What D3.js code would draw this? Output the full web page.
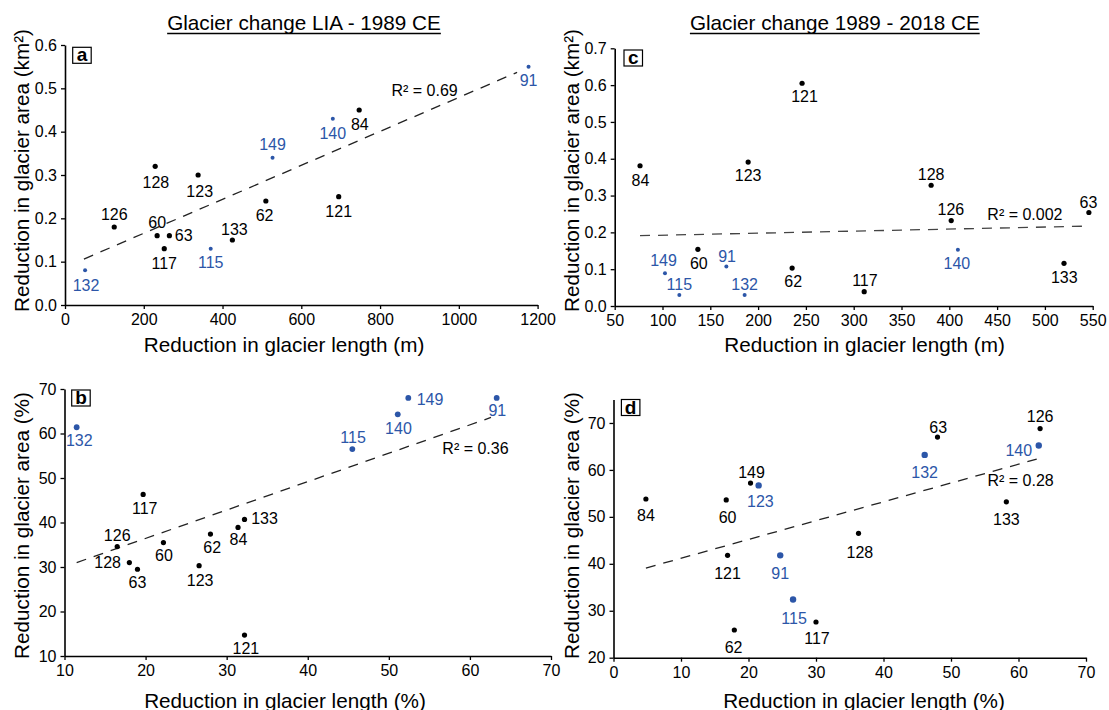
<!DOCTYPE html>
<html>
<head>
<meta charset="utf-8">
<script src="https://cdn.jsdelivr.net/npm/d3@7"></script>
<style>
  html, body { margin: 0; padding: 0; background: #fff; }
  svg { display: block; font-family: "Liberation Sans", Arial, sans-serif; }
</style>
</head>
<body>
<svg id="chart" width="1109" height="710"></svg>
<script>
// ---- Glacier data -------------------------------------------------------
// (a) LIA - 1989 CE, absolute change
const idsA  = [132, 126, 128, 60, 63, 117, 123, 115, 133, 62, 149, 140, 84, 121, 91];
const lenA  = [51, 125, 229, 234, 265, 252, 338, 370, 425, 510, 527, 680, 747, 695, 1177];
const areaA = [0.08, 0.18, 0.32, 0.16, 0.16, 0.13, 0.30, 0.13, 0.15, 0.24, 0.34, 0.43, 0.45, 0.25, 0.55];
const blueA = [132, 115, 149, 140, 91];
const trendA = [[48, 0.106], [1148, 0.537]];

// (b) LIA - 1989 CE, relative change
const idsB  = [132, 117, 126, 128, 63, 60, 123, 62, 84, 133, 121, 115, 140, 149, 91];
const lenB  = [11.5, 19.7, 16.5, 18.0, 19.0, 22.2, 26.6, 28.0, 31.4, 32.2, 32.2, 45.5, 51.1, 52.4, 63.3];
const areaB = [61.4, 46.3, 34.6, 31.0, 29.5, 35.5, 30.3, 37.4, 38.9, 40.7, 14.7, 56.5, 64.3, 68.0, 68.0];
const blueB = [132, 115, 140, 149, 91];
const trendB = [[11.5, 31.0], [62.6, 63.6]];

// (c) 1989 - 2018 CE, absolute change
const idsC  = [84, 149, 115, 60, 91, 132, 123, 62, 121, 117, 128, 126, 140, 133, 63];
const lenC  = [76.5, 102.6, 117.6, 137, 166.8, 185.9, 189.6, 235.6, 246, 311, 381, 402, 409, 520, 546];
const areaC = [0.381, 0.089, 0.030, 0.154, 0.107, 0.030, 0.391, 0.103, 0.605, 0.039, 0.328, 0.232, 0.153, 0.116, 0.254];
const blueC = [149, 115, 91, 132, 140];
const trendC = [[76.5, 0.191], [545.6, 0.217]];

// (d) 1989 - 2018 CE, relative change
const idsD  = [84, 60, 121, 149, 62, 123, 91, 115, 117, 128, 132, 63, 133, 140, 126];
const lenD  = [4.8, 16.7, 16.9, 20.3, 17.9, 21.5, 24.7, 26.6, 30.0, 36.3, 46.1, 48.0, 58.2, 63.0, 63.2];
const areaD = [53.8, 53.6, 41.8, 57.2, 25.9, 56.7, 41.8, 32.4, 27.6, 46.5, 63.2, 67.0, 53.2, 65.2, 68.8];
const blueD = [123, 91, 115, 132, 140];
const trendD = [[4.8, 39.1], [62.7, 62.3]];

// Coefficients of determination shown beside the trend lines
const r2Labels = ["R² = 0.69", "R² = 0.36", "R² = 0.002", "R² = 0.28"];

// ---- Axis ticks and labels ----------------------------------------------
const xTicksA = [0, 200, 400, 600, 800, 1000, 1200];
const yTicksA = [0.0, 0.1, 0.2, 0.3, 0.4, 0.5, 0.6];
const xTicksB = [10, 20, 30, 40, 50, 60, 70];
const yTicksB = [10, 20, 30, 40, 50, 60, 70];
const xTicksC = [50, 100, 150, 200, 250, 300, 350, 400, 450, 500, 550];
const yTicksC = [0.0, 0.1, 0.2, 0.3, 0.4, 0.5, 0.6, 0.7];
const xTicksD = [0, 10, 20, 30, 40, 50, 60, 70];
const yTicksD = [20, 30, 40, 50, 60, 70];

const titles = ["Glacier change LIA - 1989 CE", "Glacier change 1989 - 2018 CE"];
const xTitles = ["Reduction in glacier length (m)", "Reduction in glacier length (%)"];
const yTitles = ["Reduction in glacier area (km²)", "Reduction in glacier area (%)"];

// ---- Layout --------------------------------------------------------------
const BLUE = "#2c56a8";
const BLACK = "#000";

// label offsets (px) of each glacier number relative to its dot
const offA = {132:[1,15.4],126:[0,-12.7],128:[0.7,16],60:[0,-13.5],63:[14.3,0],117:[0,15],123:[1.6,16],
  115:[0,13.3],133:[2,-11],62:[-1.3,14.3],149:[0,-13.4],140:[0,14.7],84:[0.6,14.3],121:[0,14.7],91:[0,13.6]};
const offB = {132:[2.6,12.7],117:[1.6,14],126:[0,-11],128:[-21.7,0],63:[0,12.7],60:[0.6,12.3],123:[1,14.3],
  62:[1.7,12.7],84:[0.4,12.3],133:[20,-1],121:[1.4,13.3],115:[0.7,-11.6],140:[0.7,14],149:[21.7,1],91:[0.6,12]};
const offC = {84:[0.4,14.3],123:[0,13],121:[2.5,13.4],128:[0,-11.3],126:[-0.3,-11.4],63:[-0.4,-10.7],60:[1,14],
  149:[-1.4,-12.6],91:[0.7,-10.5],115:[0,-10.7],132:[0,-10.7],62:[1,13.4],117:[0.7,-11.7],140:[-1,13.6],133:[0.3,14.4]};
const offD = {84:[0,16],60:[1.4,17.4],149:[1,-11.3],123:[1.8,16],121:[0,17.4],91:[0,17.4],115:[1,18.4],
  62:[-0.7,17.3],117:[1,16.7],128:[1.4,19.4],132:[0,17],63:[0.7,-10],126:[0,-12.3],140:[-20,5],133:[0,17.3]};

const panels = [
  { tag: "a", ids: idsA, xs: lenA, ys: areaA, blue: blueA, trend: trendA, r2: r2Labels[0], r2At: [829, 0.496],
    xDom: [0, 1200], xRng: [65, 537.6], yDom: [0, 0.6], yRng: [305, 45], xTicks: xTicksA, yTicks: yTicksA,
    fmtY: d3.format(".1f"), fmtX: d3.format("d"), off: offA, rBlack: 2.6, rBlue: 2.0,
    title: titles[0], titleX: 304, xTitle: xTitles[0], xTitleX: 284, xTitleY: 352,
    yTitle: yTitles[0], yTitleX: 28.5, yTitleY: 170.5, box: [72.7, 47.3], dash: "#222" },
  { tag: "b", ids: idsB, xs: lenB, ys: areaB, blue: blueB, trend: trendB, r2: r2Labels[1], r2At: [56.6, 56.7],
    xDom: [10, 70], xRng: [64.5, 551], yDom: [10, 70], yRng: [656, 389], xTicks: xTicksB, yTicks: yTicksB,
    fmtY: d3.format("d"), fmtX: d3.format("d"), off: offB, rBlack: 2.6, rBlue: 2.9,
    xTitle: xTitles[1], xTitleX: 285, xTitleY: 707.5,
    yTitle: yTitles[1], yTitleX: 28.5, yTitleY: 525.5, box: [71.7, 390], dash: "#222" },
  { tag: "c", ids: idsC, xs: lenC, ys: areaC, blue: blueC, trend: trendC, r2: r2Labels[2], r2At: [439.8, 0.249],
    xDom: [50, 550], xRng: [614.7, 1092.7], yDom: [0, 0.7], yRng: [306, 48.3], xTicks: xTicksC, yTicks: yTicksC,
    fmtY: d3.format(".1f"), fmtX: d3.format("d"), off: offC, rBlack: 2.6, rBlue: 2.0,
    title: titles[1], titleX: 834.8, xTitle: xTitles[0], xTitleX: 864.6, xTitleY: 352,
    yTitle: yTitles[0], yTitleX: 578.5, yTitleY: 170.5, box: [624, 50], dash: "#444" },
  { tag: "d", ids: idsD, xs: lenD, ys: areaD, blue: blueD, trend: trendD, r2: r2Labels[3], r2At: [55.4, 57.7],
    xDom: [0, 70], xRng: [613.5, 1086], yDom: [20, 75], yRng: [657.7, 399.5], xTicks: xTicksD, yTicks: yTicksD,
    fmtY: d3.format("d"), fmtX: d3.format("d"), off: offD, rBlack: 2.6, rBlue: 3.2,
    xTitle: xTitles[1], xTitleX: 864, xTitleY: 708,
    yTitle: yTitles[1], yTitleX: 578.5, yTitleY: 525.5, box: [621.4, 399.5], dash: "#222" }
];

const svg = d3.select("#chart");
const TICK_FONT = "16px";
const LABEL_FONT = "16px";
const TITLE_FONT = "20.7px";

panels.forEach(p => {
  const g = svg.append("g").attr("class", "panel-" + p.tag);
  const x = d3.scaleLinear().domain(p.xDom).range(p.xRng);
  const y = d3.scaleLinear().domain(p.yDom).range(p.yRng);

  // axes
  const xAxis = g.append("g")
    .attr("transform", `translate(0,${p.yRng[0]})`)
    .call(d3.axisBottom(x).tickValues(p.xTicks).tickFormat(p.fmtX).tickSize(4).tickSizeOuter(0).tickPadding(5));
  const yAxis = g.append("g")
    .attr("transform", `translate(${p.xRng[0]},0)`)
    .call(d3.axisLeft(y).tickValues(p.yTicks).tickFormat(p.fmtY).tickSize(4).tickSizeOuter(0).tickPadding(4));
  [xAxis, yAxis].forEach(ax => {
    ax.attr("font-family", null).attr("font-size", null);
    ax.select(".domain").attr("stroke", BLACK).attr("stroke-width", 1.6);
    ax.selectAll(".tick line").attr("stroke", BLACK).attr("stroke-width", 1.3);
    ax.selectAll(".tick text").attr("fill", BLACK).style("font-size", TICK_FONT);
  });

  // dashed linear trend line
  g.append("path")
    .datum(p.trend)
    .attr("d", d3.line().x(d => x(d[0])).y(d => y(d[1])))
    .attr("fill", "none")
    .attr("stroke", p.dash)
    .attr("stroke-width", 1.3)
    .attr("stroke-dasharray", "10,8");

  // glacier dots and their numbers
  const pts = p.ids.map((id, i) => ({ id, xv: p.xs[i], yv: p.ys[i], blue: p.blue.includes(id) }));
  g.append("g").selectAll("circle").data(pts).join("circle")
    .attr("cx", d => x(d.xv))
    .attr("cy", d => y(d.yv))
    .attr("r", d => d.blue ? p.rBlue : p.rBlack)
    .attr("fill", d => d.blue ? BLUE : BLACK);
  g.append("g").selectAll("text").data(pts).join("text")
    .attr("x", d => x(d.xv) + p.off[d.id][0])
    .attr("y", d => y(d.yv) + p.off[d.id][1])
    .attr("dy", "0.36em")
    .attr("text-anchor", "middle")
    .style("font-size", LABEL_FONT)
    .attr("fill", d => d.blue ? BLUE : BLACK)
    .text(d => d.id);

  // R² annotation
  g.append("text")
    .attr("x", x(p.r2At[0]))
    .attr("y", y(p.r2At[1]))
    .attr("dy", "0.36em")
    .style("font-size", LABEL_FONT)
    .attr("fill", BLACK)
    .text(p.r2);

  // panel letter in a box
  g.append("rect")
    .attr("x", p.box[0]).attr("y", p.box[1])
    .attr("width", 18.5).attr("height", 16)
    .attr("fill", "#fff").attr("stroke", BLACK).attr("stroke-width", 1.2);
  g.append("text")
    .attr("x", p.box[0] + 9.25).attr("y", p.box[1] + 14)
    .attr("text-anchor", "middle")
    .style("font-size", "19px").style("font-weight", "bold")
    .text(p.tag);

  // axis titles
  g.append("text")
    .attr("x", p.xTitleX).attr("y", p.xTitleY)
    .attr("text-anchor", "middle")
    .style("font-size", TITLE_FONT)
    .text(p.xTitle);
  g.append("text")
    .attr("transform", `translate(${p.yTitleX},${p.yTitleY}) rotate(-90)`)
    .attr("text-anchor", "middle")
    .style("font-size", TITLE_FONT)
    .text(p.yTitle);

  // underlined column heading
  if (p.title) {
    const t = g.append("text")
      .attr("x", p.titleX).attr("y", 30)
      .attr("text-anchor", "middle")
      .style("font-size", TITLE_FONT)
      .text(p.title);
    const w = t.node().getComputedTextLength();
    g.append("line")
      .attr("x1", p.titleX - w / 2).attr("x2", p.titleX + w / 2)
      .attr("y1", 33.5).attr("y2", 33.5)
      .attr("stroke", BLACK).attr("stroke-width", 1.3);
  }
});
</script>
</body>
</html>
